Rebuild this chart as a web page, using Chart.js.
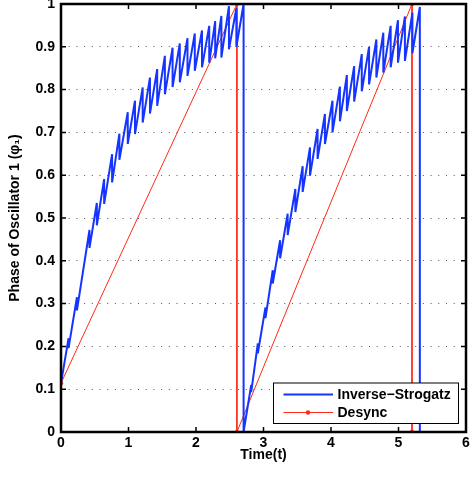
<!DOCTYPE html>
<html>
<head>
<meta charset="utf-8">
<script src="https://cdn.jsdelivr.net/npm/chart.js@4.4.1/dist/chart.umd.min.js"></script>
<style>
  body { margin: 0; background: #fff; }
  canvas { display: block; }
</style>
</head>
<body>
<canvas id="c" width="470" height="477"></canvas>
<script>
// phase of oscillator 1 (each tooth = peak then drop)
const invTime = [
  0,
  0.112, 0.112, 0.236, 0.236, 0.422, 0.422, 0.531, 0.531, 0.639, 0.639,
  0.757, 0.757, 0.865, 0.865, 0.989, 0.989, 1.096, 1.096, 1.210, 1.210,
  1.318, 1.318, 1.425, 1.425, 1.539, 1.539, 1.653, 1.653, 1.760, 1.760,
  1.874, 1.874, 1.982, 1.982, 2.089, 2.089, 2.196, 2.196, 2.284, 2.284,
  2.376, 2.376, 2.488, 2.488, 2.598, 2.598, 2.705, 2.705,
  2.818, 2.818, 2.916, 2.916, 3.029, 3.029, 3.137, 3.137, 3.246, 3.246,
  3.358, 3.358, 3.472, 3.472, 3.580, 3.580, 3.689, 3.689, 3.801, 3.801,
  3.910, 3.910, 4.022, 4.022, 4.132, 4.132, 4.235, 4.235, 4.343, 4.343,
  4.456, 4.456, 4.564, 4.564, 4.672, 4.672, 4.775, 4.775, 4.884, 4.884,
  4.992, 4.992, 5.095, 5.095, 5.206, 5.206, 5.316, 5.316
];
const invPhase = [
  0.114,
  0.219, 0.196, 0.315, 0.284, 0.472, 0.430, 0.535, 0.483, 0.591, 0.533,
  0.649, 0.583, 0.697, 0.636, 0.747, 0.673, 0.774, 0.696, 0.805, 0.723,
  0.828, 0.744, 0.848, 0.762, 0.879, 0.789, 0.898, 0.806, 0.908, 0.817,
  0.920, 0.832, 0.931, 0.844, 0.938, 0.852, 0.949, 0.863, 0.960, 0.873,
  0.972, 0.875, 0.995, 0.894, 0.990, 0.900, 1.000, 0,
  0.110, 0.093, 0.207, 0.184, 0.291, 0.266, 0.378, 0.347, 0.448, 0.406,
  0.510, 0.460, 0.568, 0.514, 0.621, 0.561, 0.665, 0.599, 0.708, 0.638,
  0.743, 0.673, 0.774, 0.700, 0.807, 0.726, 0.834, 0.750, 0.855, 0.772,
  0.883, 0.796, 0.900, 0.812, 0.917, 0.828, 0.933, 0.840, 0.949, 0.852,
  0.962, 0.863, 0.971, 0.867, 0.980, 0.885, 0.993, 0
];
const desyncTime = [0, 2.606, 2.606, 5.2, 5.2];
const desyncPhase = [0.114, 1, 0, 1, 0];

const xTicks = [0, 1, 2, 3, 4, 5, 6];
const yTicks = [0, 0.1, 0.2, 0.3, 0.4, 0.5, 0.6, 0.7, 0.8, 0.9, 1];

const FONT = '"Liberation Sans", Arial, Helvetica, sans-serif';
const BLUE = 'rgb(22,52,255)';
const RED = 'rgb(255,42,22)';

function toPoints(xs, ys) {
  return xs.map((x, i) => ({ x: x, y: ys[i] }));
}

// box round the axes, inward ticks and the legend, like matlab
const framePlugin = {
  id: 'frame',
  afterDatasetsDraw(chart) {
    const ctx = chart.ctx;
    const a = chart.chartArea;
    const sx = chart.scales.x, sy = chart.scales.y;
    ctx.save();
    ctx.strokeStyle = '#000';
    ctx.lineWidth = 1.5;
    ctx.beginPath();
    xTicks.forEach(v => {
      const px = sx.getPixelForValue(v);
      ctx.moveTo(px, a.bottom); ctx.lineTo(px, a.bottom - 5);
      ctx.moveTo(px, a.top); ctx.lineTo(px, a.top + 5);
    });
    yTicks.forEach(v => {
      const py = sy.getPixelForValue(v);
      ctx.moveTo(a.left, py); ctx.lineTo(a.left + 5, py);
      ctx.moveTo(a.right, py); ctx.lineTo(a.right - 5, py);
    });
    ctx.stroke();
    ctx.lineWidth = 2.5;
    ctx.strokeRect(a.left, a.top, a.right - a.left, a.bottom - a.top);

    // legend
    const lx = 273.5, ly = 383, lw = 185, lh = 40.5;
    ctx.fillStyle = '#fff';
    ctx.fillRect(lx, ly, lw, lh);
    ctx.lineWidth = 1;
    ctx.strokeStyle = '#000';
    ctx.strokeRect(lx, ly, lw, lh);
    ctx.font = 'bold 14px ' + FONT;
    ctx.textBaseline = 'middle';
    ctx.textAlign = 'left';
    const rows = [394.5, 412.5];
    chart.data.datasets.forEach((ds, i) => {
      const yy = rows[i];
      ctx.strokeStyle = ds.borderColor;
      ctx.lineWidth = ds.borderWidth;
      ctx.beginPath();
      ctx.moveTo(283.5, yy); ctx.lineTo(333, yy);
      ctx.stroke();
      if (ds.pointRadius > 0) {
        ctx.fillStyle = ds.borderColor;
        ctx.beginPath();
        ctx.arc(308, yy, ds.pointRadius, 0, Math.PI * 2);
        ctx.fill();
      }
      ctx.fillStyle = '#000';
      ctx.fillText(ds.label, 337.5, yy + 0.5);
    });
    ctx.restore();
  }
};

const tickFont = { family: FONT, size: 14, weight: 'bold' };

new Chart(document.getElementById('c'), {
  type: 'scatter',
  data: {
    datasets: [
      {
        label: 'Inverse\u2212Strogatz',
        data: toPoints(invTime, invPhase),
        showLine: true,
        borderColor: BLUE,
        backgroundColor: BLUE,
        borderWidth: 2,
        pointRadius: 0,
        tension: 0
      },
      {
        label: 'Desync',
        data: toPoints(desyncTime, desyncPhase),
        showLine: true,
        borderColor: RED,
        backgroundColor: RED,
        borderWidth: 1,
        pointRadius: 2.2,
        pointBorderWidth: 0,
        tension: 0
      }
    ]
  },
  options: {
    responsive: false,
    animation: false,
    events: [],
    layout: { padding: { top: 3, right: 3, left: 0, bottom: 0 } },
    plugins: { legend: { display: false }, tooltip: { enabled: false } },
    scales: {
      x: {
        type: 'linear',
        min: 0, max: 6,
        afterBuildTicks: s => { s.ticks = xTicks.map(v => ({ value: v })); },
        ticks: { color: '#000', font: tickFont, padding: 3, maxRotation: 0, autoSkip: false,
                 callback: v => String(v) },
        grid: { display: false, drawTicks: false },
        border: { display: false },
        title: { display: true, text: 'Time(t)', color: '#000', font: tickFont, padding: { top: 0, bottom: 13.6 } },
        afterFit: s => { s.height = 45; s.paddingLeft = 0; s.paddingRight = 0; }
      },
      y: {
        type: 'linear',
        min: 0, max: 1,
        afterBuildTicks: s => { s.ticks = yTicks.map(v => ({ value: v })); },
        ticks: { color: '#000', font: tickFont, padding: 6, autoSkip: false,
                 callback: v => String(+v.toFixed(1)) },
        grid: { color: '#555', lineWidth: 1, drawTicks: false },
        border: { display: false, dash: [1, 6.7] },
        title: { display: true, text: 'Phase of Oscillator 1 (\u03c6\u2081)', color: '#000', font: tickFont, padding: { top: 6.6, bottom: 0 } },
        afterFit: s => { s.width = 61; s.paddingTop = 0; s.paddingBottom = 0; }
      }
    }
  },
  plugins: [framePlugin]
});
</script>
</body>
</html>
